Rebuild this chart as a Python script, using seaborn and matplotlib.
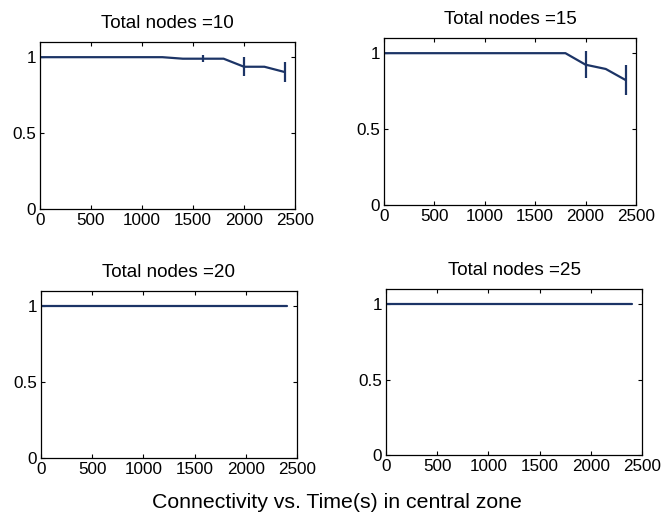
import numpy as np
import pandas as pd
import matplotlib
matplotlib.use("Agg")
import matplotlib.pyplot as plt
import seaborn as sns

# ---- data ----
time_s = [0, 200, 400, 600, 800, 1000, 1200, 1400, 1600, 1800, 2000, 2200, 2400]
nodes = [10, 15, 20, 25]
conn_10 = [1.0, 1.0, 1.0, 1.0, 1.0, 1.0, 1.0, 0.99, 0.99, 0.99, 0.937, 0.937, 0.902]
err_10 = [0, 0, 0, 0, 0, 0, 0, 0, 0.023, 0, 0.062, 0, 0.063]
conn_15 = [1.0, 1.0, 1.0, 1.0, 1.0, 1.0, 1.0, 1.0, 1.0, 1.0, 0.924, 0.896, 0.822]
err_15 = [0, 0, 0, 0, 0, 0, 0, 0, 0, 0, 0.09, 0, 0.10]
conn_20 = [1.0] * 13
err_20 = [0] * 13
conn_25 = [1.0] * 13
err_25 = [0] * 13
x_ticks = [0, 500, 1000, 1500, 2000, 2500]
y_ticks = [0, 0.5, 1]
y_tick_labels = ["0", "0.5", "1"]
titles = ["Total nodes =10", "Total nodes =15", "Total nodes =20", "Total nodes =25"]
fig_label = "Connectivity vs. Time(s) in central zone"

series = [conn_10, conn_15, conn_20, conn_25]
errors = [err_10, err_15, err_20, err_25]

sns.set_theme(style="ticks")
plt.rcParams['font.family'] = ['Liberation Sans', 'DejaVu Sans']

W, H = 662, 520
fig = plt.figure(figsize=(W / 100, H / 100), dpi=100)
fig.patch.set_facecolor("white")

# axes boxes in pixels: left, right, top, bottom
boxes = [(40, 295, 42, 209), (384, 636, 38, 205), (41, 297, 291, 458), (386, 642, 289, 455)]
color = "#1c3466"

for i, (l, r, t, b) in enumerate(boxes):
    ax = fig.add_axes([l / W, 1 - b / H, (r - l) / W, (b - t) / H])
    df = pd.DataFrame({"time": time_s, "conn": series[i], "err": errors[i]})
    sns.lineplot(data=df, x="time", y="conn", ax=ax, color=color, linewidth=1.6)
    sub = df[df["err"] > 0]
    if len(sub):
        ax.errorbar(sub["time"], sub["conn"], yerr=sub["err"], fmt="none",
                    ecolor=color, elinewidth=1.6, capsize=0)
    ax.set_xlim(0, 2500)
    ax.set_ylim(0, 1.1)
    ax.set_xticks(x_ticks)
    ax.set_yticks(y_ticks)
    ax.set_yticklabels(y_tick_labels)
    ax.set_xlabel("")
    ax.set_ylabel("")
    ax.tick_params(direction="in", length=3, width=0.8, top=True, right=True,
                   labelsize=12.3, colors="black", pad=3)
    for s in ax.spines.values():
        s.set_visible(True)
        s.set_color("black")
        s.set_linewidth(0.9)
    ax.set_title(titles[i], fontsize=13.6, pad=10, color="black")

fig.text(337 / W, 1 - 503 / H, fig_label, ha="center", va="center", fontsize=15.3, color="black")

fig.savefig("out.png", dpi=100, facecolor="white")
